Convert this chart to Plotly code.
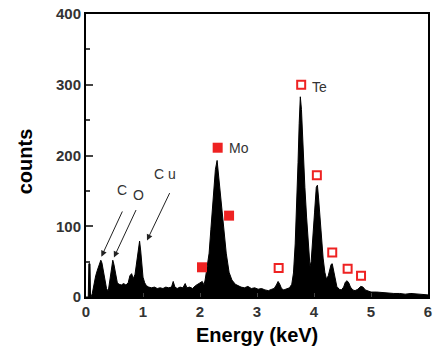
import plotly.graph_objects as go

# EDS spectrum (energy in keV, counts)
energy = [0.00, 0.04, 0.05, 0.07, 0.08, 0.09, 0.11, 0.14, 0.17, 0.20, 0.23, 0.26, 0.28, 0.30, 0.33,
          0.36, 0.39, 0.42, 0.45, 0.47, 0.49, 0.52, 0.55, 0.58, 0.62, 0.66, 0.70, 0.74, 0.77, 0.80,
          0.83, 0.86, 0.89, 0.92, 0.94, 0.96, 0.98, 1.00, 1.03, 1.06, 1.10, 1.15, 1.20, 1.25, 1.30,
          1.35, 1.40, 1.45, 1.50, 1.53, 1.56, 1.60, 1.65, 1.70, 1.74, 1.77, 1.82, 1.87, 1.92, 1.96,
          2.00, 2.04, 2.07, 2.09, 2.12, 2.16, 2.19, 2.22, 2.25, 2.27, 2.30, 2.31, 2.33, 2.35, 2.37,
          2.40, 2.42, 2.46, 2.51, 2.56, 2.62, 2.67, 2.72, 2.78, 2.84, 2.90, 2.96, 3.02, 3.08, 3.14,
          3.20, 3.26, 3.30, 3.34, 3.37, 3.40, 3.43, 3.47, 3.52, 3.57, 3.61, 3.64, 3.67, 3.70, 3.72,
          3.74, 3.76, 3.78, 3.80, 3.82, 3.84, 3.87, 3.90, 3.93, 3.95, 3.98, 4.01, 4.04, 4.06, 4.08,
          4.10, 4.13, 4.16, 4.19, 4.22, 4.25, 4.28, 4.30, 4.32, 4.34, 4.37, 4.40, 4.44, 4.48, 4.52,
          4.55, 4.58, 4.61, 4.64, 4.68, 4.72, 4.77, 4.82, 4.86, 4.90, 4.95, 5.00, 5.10, 5.20, 5.30,
          5.40, 5.50, 5.60, 5.70, 5.80, 5.90, 6.00]
counts = [0, 0, 47, 47, 0, 0, 5, 20, 30, 38, 46, 52, 48, 40, 25,
          12, 8, 25, 45, 52, 46, 30, 20, 18, 17, 19, 17, 20, 30, 33,
          26, 32, 50, 72, 79, 65, 42, 28, 20, 16, 14, 13, 14, 12, 13,
          12, 14, 13, 14, 22, 14, 12, 14, 13, 19, 13, 14, 12, 16, 18,
          20, 22, 17, 24, 40, 62, 95, 133, 165, 180, 193, 185, 168, 150, 133,
          108, 90, 62, 35, 24, 18, 16, 14, 13, 15, 12, 13, 11, 12, 10,
          9, 11, 12, 17, 22, 18, 12, 10, 11, 13, 18, 34, 75, 133, 190,
          245, 283, 265, 220, 185, 155, 113, 70, 43, 50, 80, 120, 155, 158, 140,
          115, 85, 55, 35, 25, 30, 40, 46, 47, 40, 25, 15, 11, 10, 14,
          21, 23, 20, 14, 10, 9, 11, 15, 14, 10, 8, 7, 7, 6, 6,
          5, 5, 4, 5, 4, 4, 3]

# Element markers
mo_energy = [2.035, 2.31, 2.51]
mo_counts = [42, 211, 115]
te_energy = [3.38, 3.775, 4.05, 4.32, 4.59, 4.825]
te_counts = [41, 300, 172, 63, 40, 30]

x_ticks = [0, 1, 2, 3, 4, 5, 6]
y_ticks = [0, 100, 200, 300, 400]

red = "#ee2222"

fig = go.Figure()
fig.add_trace(go.Scatter(x=energy, y=counts, mode="lines", fill="tozeroy",
                         line=dict(color="black", width=1), fillcolor="black",
                         showlegend=False, hoverinfo="skip"))
fig.add_trace(go.Scatter(x=mo_energy, y=mo_counts, mode="markers",
                         marker=dict(symbol="square", size=10, color=red,
                                     line=dict(width=0)), showlegend=False))
fig.add_trace(go.Scatter(x=te_energy, y=te_counts, mode="markers",
                         marker=dict(symbol="square-open", size=8, color=red,
                                     line=dict(width=2, color=red)), showlegend=False))

lab_font = dict(family="Liberation Sans, Arial", size=14, color="#333333")
annotations = [
    dict(x=2.48, y=211, text="Mo", xanchor="left", yanchor="middle", showarrow=False, font=lab_font),
    dict(x=3.93, y=297, text="Te", xanchor="left", yanchor="middle", showarrow=False, font=lab_font),
    dict(x=0.64, y=151, text="C", xanchor="center", yanchor="middle", showarrow=False, font=lab_font),
    dict(x=0.92, y=144, text="O", xanchor="center", yanchor="middle", showarrow=False, font=lab_font),
    dict(x=1.39, y=174, text="C u", xanchor="center", yanchor="middle", showarrow=False, font=lab_font),
]
arrows = [((0.65, 123), (0.27, 57)), ((0.89, 125), (0.49, 56)), ((1.48, 149), (1.07, 80))]
for (sx, sy), (ex, ey) in arrows:
    annotations.append(dict(x=ex, y=ey, ax=sx, ay=sy, xref="x", yref="y", axref="x", ayref="y",
                            text="", showarrow=True, arrowhead=2, arrowsize=1.2, arrowwidth=1,
                            arrowcolor="#222222"))

title_font = dict(family="Liberation Sans, Arial", size=20, color="black")
annotations.append(dict(x=-0.178, y=0.48, xref="paper", yref="paper", text="<b>counts</b>",
                        textangle=-90, showarrow=False, font=title_font,
                        xanchor="center", yanchor="middle"))
annotations.append(dict(x=0.5, y=-0.135, xref="paper", yref="paper", text="<b>Energy (keV)</b>",
                        showarrow=False, font=title_font, xanchor="center", yanchor="middle"))

tick_font = dict(family="Liberation Sans, Arial", size=15, color="#333333", weight="bold")
fig.update_layout(
    width=433, height=354,
    margin=dict(l=86, r=5, t=14, b=57),
    paper_bgcolor="white", plot_bgcolor="white",
    annotations=annotations,
    xaxis=dict(range=[0, 6], tickvals=x_ticks, ticks="inside", ticklen=4, tickwidth=1,
               showline=True, linewidth=2, linecolor="black", mirror=True, showgrid=False,
               zeroline=False, tickfont=tick_font, automargin=False, ticklabeloverflow="allow"),
    yaxis=dict(range=[0, 400], tickvals=y_ticks, ticks="inside", ticklen=7, tickwidth=2,
               showline=True, linewidth=2, linecolor="black", mirror=True, showgrid=False,
               zeroline=False, tickfont=tick_font, automargin=False, ticklabeloverflow="allow",
               minor=dict(ticks="inside", ticklen=4, tickwidth=2, dtick=50, showgrid=False)),
)

fig.write_html("out.html", config={"displayModeBar": False},
               post_script="document.body.style.margin='0px';")
